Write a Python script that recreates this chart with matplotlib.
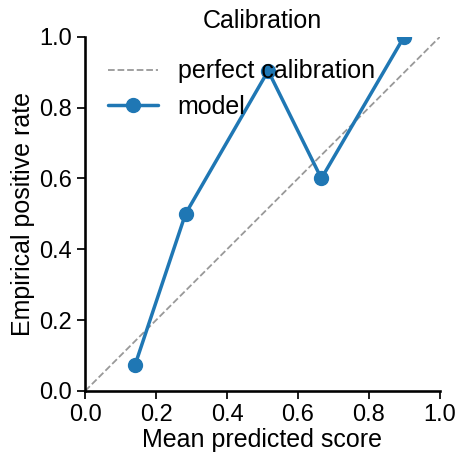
import matplotlib
matplotlib.use("Agg")
import matplotlib.pyplot as plt
import seaborn as sns

# calibration bins
mean_pred = [0.141, 0.283, 0.516, 0.666, 0.899]
pos_rate = [0.074, 0.50, 0.904, 0.60, 1.0]

sns.set_theme(style="ticks", context="talk")
plt.rcParams['font.family'] = ['Liberation Sans', 'DejaVu Sans']
for key in ["text.color", "axes.labelcolor", "xtick.color", "ytick.color", "axes.edgecolor"]:
    plt.rcParams[key] = "black"

fig, ax = plt.subplots(figsize=(4.65, 4.66), dpi=100)
fig.subplots_adjust(left=0.183, right=0.946, top=0.921, bottom=0.161)

ax.plot([0, 1], [0, 1], linestyle="--", color="#999999", linewidth=1.3,
        label="perfect calibration")
ax.plot(mean_pred, pos_rate, marker="o", color="#1f77b4", linewidth=2.5,
        markersize=10, label="model")

ax.set_xlim(0, 1)
ax.set_ylim(0, 1)
ax.tick_params(length=6, width=1.25, labelsize=17)
ax.set_xlabel("Mean predicted score", fontsize=18, labelpad=1)
ax.set_ylabel("Empirical positive rate", fontsize=18, labelpad=3)
ax.set_title("Calibration", fontsize=18)
ax.legend(frameon=False, loc="upper left", fontsize=18,
          bbox_to_anchor=(0.0, 1.0), handlelength=2.0, handletextpad=0.8,
          labelspacing=0.45)
sns.despine(ax=ax)

fig.savefig("out.png", dpi=100)
